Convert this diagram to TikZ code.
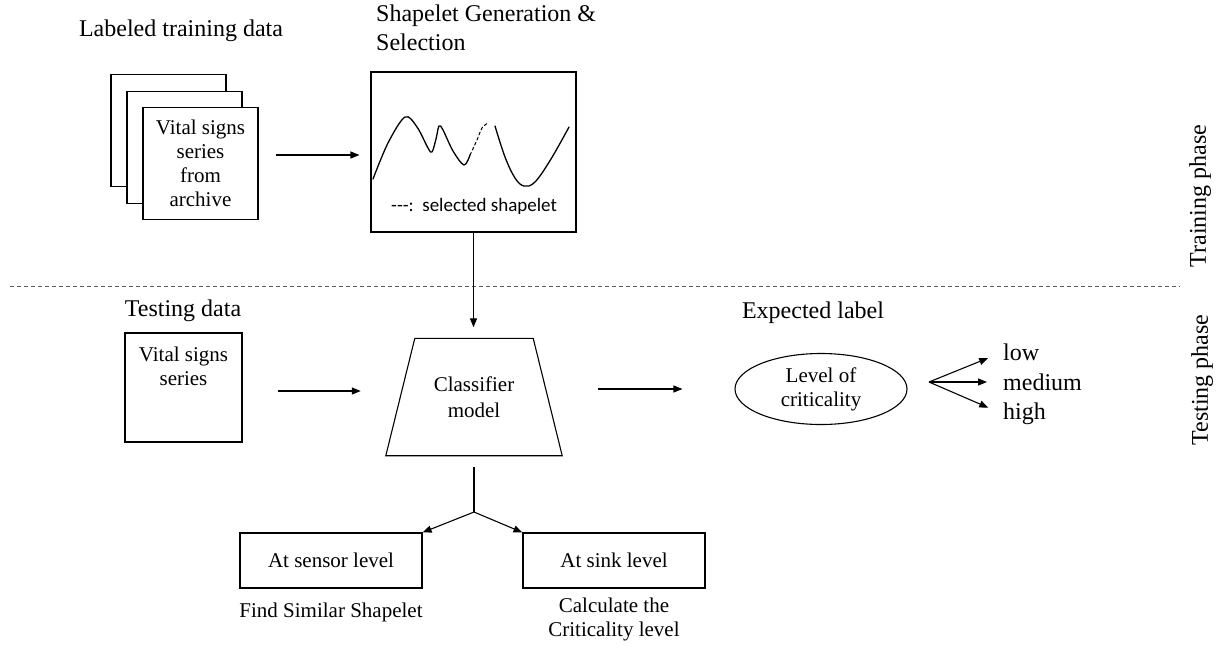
\documentclass[tikz,border=0pt]{standalone}
\usepackage{fontspec}
\setmainfont{Liberation Serif}
\newfontfamily\calfont{Carlito}
\usetikzlibrary{arrows.meta,calc,shapes.geometric}
\begin{document}
\begin{tikzpicture}[x=1pt,y=-1pt,
  arr/.style={-{Triangle[length=9pt,width=7pt]}, line width=1.1pt},
  ln/.style={line width=1.1pt},
  box/.style={draw, line width=1.1pt, fill=white, inner sep=0pt},
  big/.style={font=\fontsize{24}{29}\selectfont, align=center, inner sep=0pt},
  small/.style={font=\fontsize{21}{24}\selectfont, align=center, inner sep=0pt},
  curve/.style={line width=1.3pt, line cap=round, line join=round},
]
\useasboundingbox (0,0) rectangle (1231,646);

% titles
\node[big] (tLab) at (181,31) {Labeled training data};
\node[big, align=left, anchor=north west] (tShp) at (376,5) {Shapelet Generation \&\\Selection};
\node[big] (tTest) at (183,311) {Testing data};
\node[big] (tExp) at (813,313) {Expected label};

% stacked archive boxes
\node[box, minimum width=115pt, minimum height=112pt] (s1) at (168.5,130.5) {};
\node[box, minimum width=115pt, minimum height=112pt] (s2) at (184.5,147.5) {};
\node[box, minimum width=115pt, minimum height=112pt, small] (s3) at (200.5,163.5) {Vital signs\\series\\from\\archive};

% shapelet box
\node[box, minimum width=205pt, minimum height=160pt] (shp) at (473.5,152) {};
\draw[curve] plot[smooth, tension=0.55] coordinates {(373,179) (388,143) (405,117) (417,127) (428,148) (432,152) (436,139) (439,126) (443,130) (453,151) (464,165) (470,155)};
\draw[curve, dash pattern=on 3pt off 2.5pt, line width=1pt] plot[smooth, tension=0.6] coordinates {(470,155) (477,140) (482,128) (488,123)};
\draw[curve] plot[smooth, tension=0.6] coordinates {(495,126) (505,157) (515,178) (524,186) (535,182) (551,159) (569,127)};
\node[font=\calfont\fontsize{19}{22}\selectfont, anchor=west, inner sep=0pt] (leg) at (391,206) {-{}-{}-:\ \ selected shapelet};

\draw[arr, shorten <=17pt, shorten >=11pt] ([yshift=8.5pt]s3.east) -- ([yshift=8.5pt]s3.east -| shp.west);

% phase separator
\coordinate (dL) at (10,286);
\coordinate (dR) at (1180,286);
\draw[dash pattern=on 4pt off 3pt, line width=0.8pt, black!65] (dL) -- (dR);
\node[big, rotate=90] (ph1) at (1200,196) {Training phase};
\node[big, rotate=90] (ph2) at (1202,380) {Testing phase};

% testing data box
\node[box, minimum width=117pt, minimum height=109pt] (td) at (183.5,387.5) {};
\node[small, anchor=north] (tdt) at ([yshift=-14pt]td.north) {Vital signs\\series};

% classifier trapezoid
\node[minimum width=176pt, minimum height=117pt, small, font=\fontsize{21}{26}\selectfont] (cls) at (474,397) {Classifier\\model};
\draw[ln] ($(cls.north west)+(29,0)$) -- ($(cls.north east)+(-29,0)$) -- (cls.south east) -- (cls.south west) -- cycle;

\draw[arr, shorten >=11pt] (shp.south) -- (cls.north -| shp.south);

\draw[arr, shorten <=35pt, shorten >=25pt] ([yshift=-3.5pt]td.east) -- ([yshift=-3.5pt]td.east -| cls.west);

% expected label ellipse
\node[ellipse, draw, line width=1.1pt, minimum width=172pt, minimum height=71pt, small] (ell) at (821,389) {Level of\\criticality};
\draw[arr, shorten <=36pt, shorten >=52pt] (ell.west -| cls.east) -- (ell.west);

\coordinate (br) at (929,382);
\node[big, anchor=west, inner sep=0pt] (low) at (1003,352) {low};
\node[big, anchor=west, inner sep=0pt] (med) at (1003,382) {medium};
\node[big, anchor=west, inner sep=0pt] (high) at (1003,414) {high};
\draw[arr, shorten >=16pt] (br) -- (low.west);
\draw[arr, shorten >=16pt] (br) -- (med.west);
\draw[arr, shorten >=16pt] (br) -- (high.west);

% bottom boxes
\node[box, minimum width=182pt, minimum height=55pt, small] (lb) at (331,560.5) {At sensor level};
\node[box, minimum width=182pt, minimum height=55pt, small] (rb) at (614,560.5) {At sink level};
\node[small] (lbt) at (331,612) {Find Similar Shapelet};
\node[small] (rbt) at (614,619) {Calculate the\\Criticality level};

\coordinate (split) at (474,512);
\draw[ln, shorten <=11pt] (cls.south) -- (split);
\draw[arr] (split) -- (lb.north east);
\draw[arr] (split) -- (rb.north west);
\end{tikzpicture}
\end{document}
